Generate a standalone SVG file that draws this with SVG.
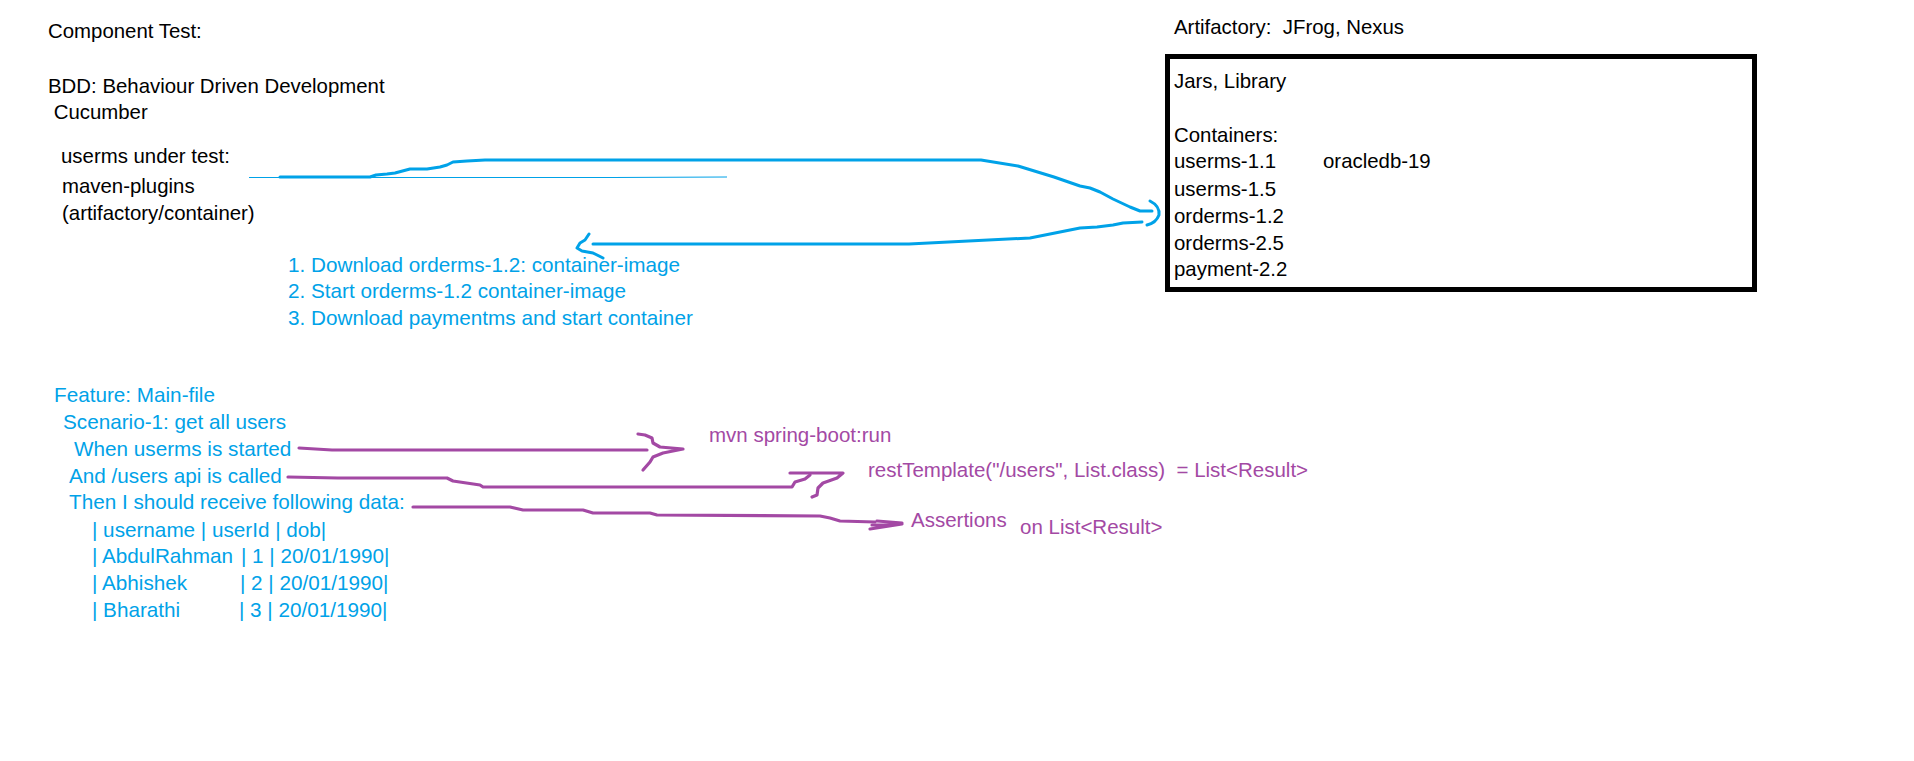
<svg xmlns="http://www.w3.org/2000/svg" width="1914" height="761" viewBox="0 0 1914 761" xml:space="preserve">
<style>
text{font-family:"Liberation Sans",Arial,sans-serif;white-space:pre}
.k{font-size:20.4px;fill:#000}
.b{font-size:20.7px;fill:#00A2E8}
.p{font-size:20.5px;fill:#A349A4}
.cb{fill:none;stroke:#00A2E8;stroke-width:3;stroke-linejoin:round;stroke-linecap:round}
.cbt{fill:none;stroke:#00A2E8;stroke-width:1.2}
.cp{fill:none;stroke:#A349A4;stroke-width:3.2;stroke-linejoin:round;stroke-linecap:round}
</style>
<rect width="1914" height="761" fill="#fff"/>
<g id="title">
<text class="k" x="48" y="38">Component Test:</text>
<text class="k" x="48" y="93">BDD: Behaviour Driven Development</text>
<text class="k" x="48" y="119"> Cucumber</text>
</g>
<g id="userms-under-test">
<text class="k" x="61" y="163">userms under test:</text>
<text class="k" x="62" y="193">maven-plugins</text>
<text class="k" x="62" y="220">(artifactory/container)</text>
</g>
<g id="steps">
<text class="b" x="288" y="272">1. Download orderms-1.2: container-image</text>
<text class="b" x="288" y="298">2. Start orderms-1.2 container-image</text>
<text class="b" x="288" y="325">3. Download paymentms and start container</text>
</g>
<g id="artifactory-label">
<text class="k" x="1174" y="34">Artifactory:  JFrog, Nexus</text>
</g>
<g id="artifactory-box">
<rect x="1167.5" y="56.5" width="587" height="233" fill="none" stroke="#000" stroke-width="5"/>
<text class="k" x="1174" y="88">Jars, Library</text>
<text class="k" x="1174" y="142">Containers:</text>
<text class="k" x="1174" y="168">userms-1.1</text>
<text class="k" x="1323" y="168">oracledb-19</text>
<text class="k" x="1174" y="196">userms-1.5</text>
<text class="k" x="1174" y="223">orderms-1.2</text>
<text class="k" x="1174" y="250">orderms-2.5</text>
<text class="k" x="1174" y="276">payment-2.2</text>
</g>
<g id="feature">
<text class="b" x="54" y="402">Feature: Main-file</text>
<text class="b" x="63" y="429">Scenario-1: get all users</text>
<text class="b" x="74" y="456">When userms is started</text>
<text class="b" x="69" y="483">And /users api is called</text>
<text class="b" x="69" y="509">Then I should receive following data:</text>
<text class="b" x="92" y="537">| username | userId | dob|</text>
<text class="b" y="563"><tspan x="92">| AbdulRahman </tspan><tspan x="241">| 1 | 20/01/1990|</tspan></text>
<text class="b" y="590"><tspan x="92">| Abhishek</tspan><tspan x="240">| 2 | 20/01/1990|</tspan></text>
<text class="b" y="617"><tspan x="92">| Bharathi</tspan><tspan x="239">| 3 | 20/01/1990|</tspan></text>
</g>
<g id="mvn-run">
<text class="p" x="709" y="442">mvn spring-boot:run</text>
</g>
<g id="rest-template">
<text class="p" x="868" y="477">restTemplate("/users", List.class)  = List&lt;Result&gt;</text>
</g>
<g id="assertions">
<text class="p" x="911" y="527">Assertions</text>
<text class="p" x="1020" y="534">on List&lt;Result&gt;</text>
</g>
<g id="connectors">
<path class="cbt" d="M249,177.5 L612,177.5 L727,177"/>
<path class="cb" d="M280,177 L370,177 L376,175 L387,174 L395,173 L410,169 L427,169 L440,167 L447,165 L453,162 L467,161 L485,160 L981,160 L1018,166 L1054,177 L1080,186 L1090,188 L1100,192 L1113,199 L1130,207 L1140,211 L1152,211"/>
<path class="cb" d="M1150,201 Q1160,206 1159,215 Q1156,223 1147,225"/>
<path class="cb" d="M1142,222 L1123,223 L1113,225 L1097,227 L1080,228 L1030,238 L909,244 L593,244"/>
<path class="cb" d="M589,234 L585,240 L580,243 L577,248 L582,251 L593,253 L603,258"/>
<path class="cp" d="M299,448 L332,450 L647,450"/>
<path class="cp" d="M638,434 L645,435 L652,438 L653,443 L660,447 L683,449 L663,453 L653,457 L650,462 L643,470"/>
<path class="cp" d="M288,477 L338,478 L447,478 L453,481 L480,485 L483,487 L792,487 L795,482 L805,479 L810,475"/>
<path class="cp" d="M790,473 L843,473 L837,478 L823,483 L818,488 L817,495 L812,497"/>
<path class="cp" d="M413,507 L510,507 L523,510 L583,510 L593,513 L650,513 L657,515 L820,516 L830,518 L840,521 L875,522"/>
<path class="cp" d="M877,521 L902,523 M872,525 L895,525 M870,529 L902,524"/>
</g>
</svg>
